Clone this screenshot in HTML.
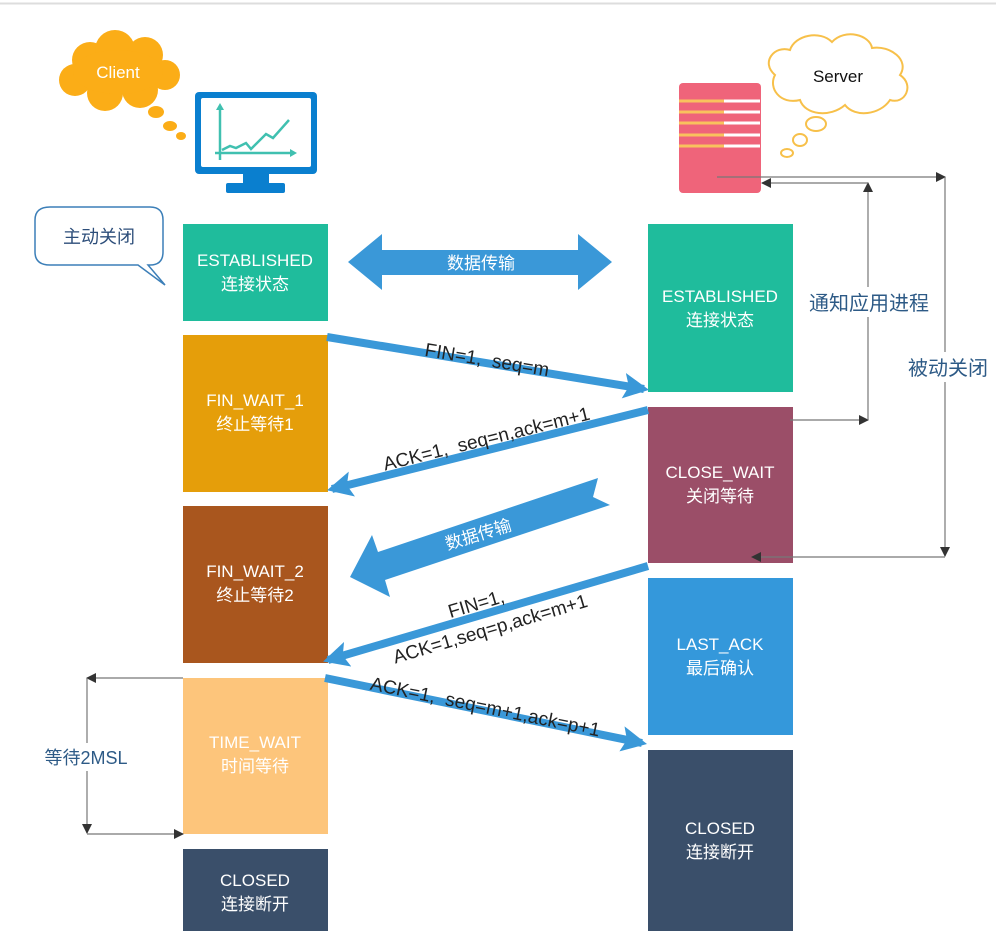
<!DOCTYPE html>
<html><head><meta charset="utf-8"><style>
body{margin:0;background:#fff;}
svg{display:block;font-family:"Liberation Sans","Noto Sans CJK SC",sans-serif;}
</style></head><body>
<svg width="996" height="931" viewBox="0 0 996 931" xmlns="http://www.w3.org/2000/svg">
<defs>
<marker id="ah" viewBox="0 0 10 10" refX="9" refY="5" markerWidth="10" markerHeight="10" markerUnits="userSpaceOnUse" orient="auto"><path d="M0,0 L10,5 L0,10 Z" fill="#333"/></marker>
<marker id="bh" viewBox="0 0 10 10" refX="8" refY="5" markerWidth="3.2" markerHeight="3.2" orient="auto"><path d="M0,0 L10,5 L0,10 L2,5 Z" fill="#3a98d8"/></marker>
</defs>
<rect x="0" y="0" width="996" height="931" fill="#fff"/>
<line x1="0" y1="3.5" x2="996" y2="3.5" stroke="#ddd" stroke-width="2"/>

<g fill="#fbad17">
<circle cx="90" cy="60" r="18"/><circle cx="115" cy="50" r="20"/><circle cx="145" cy="55" r="18"/>
<circle cx="165" cy="75" r="15"/><circle cx="140" cy="90" r="18"/><circle cx="105" cy="93" r="18"/>
<circle cx="75" cy="80" r="16"/><ellipse cx="118" cy="72" rx="45" ry="22"/>
<ellipse cx="156" cy="112" rx="8" ry="6"/><ellipse cx="170" cy="126" rx="7" ry="5"/><ellipse cx="181" cy="136" rx="5" ry="4"/>
</g>
<text x="118" y="78" font-size="17" fill="#fff" text-anchor="middle">Client</text>

<rect x="195" y="92" width="122" height="82" rx="4" fill="#0a7fcf"/>
<rect x="201" y="98" width="110" height="69" rx="2" fill="#fff"/>
<rect x="243" y="174" width="26" height="10" fill="#0a7fcf"/>
<rect x="226" y="183" width="59" height="10" rx="2" fill="#0a7fcf"/>
<g stroke="#40c0b0" stroke-width="2.5" fill="none">
<line x1="220" y1="160" x2="220" y2="108"/><line x1="215" y1="153" x2="293" y2="153"/>
<polyline points="222,150 230,146 236,148 246,143 251,149 266,134 273,138 289,120"/>
</g>
<path d="M216,110 L220,103 L224,110 Z M290,149 L297,153 L290,157 Z" fill="#40c0b0"/>

<g fill="#fff" stroke="#f7c04a" stroke-width="2">
<path d="M775,75 C760,62 775,45 790,50 C795,35 820,30 832,42 C845,28 870,35 872,48 C890,45 910,60 900,75 C915,85 905,105 890,100 C880,115 855,118 845,105 C830,118 805,115 800,100 C780,105 768,88 775,75 Z"/>
<ellipse cx="816" cy="124" rx="10" ry="7"/><ellipse cx="800" cy="140" rx="7" ry="6"/><ellipse cx="787" cy="153" rx="6" ry="4"/>
</g>
<text x="838" y="82" font-size="17" fill="#111" text-anchor="middle">Server</text>

<rect x="679" y="83" width="82" height="110" rx="4" fill="#ef647a"/>
<g stroke-width="3">
<g stroke="#f9c25d"><line x1="679" y1="101" x2="724" y2="101"/><line x1="679" y1="112" x2="724" y2="112"/><line x1="679" y1="123" x2="724" y2="123"/><line x1="679" y1="135" x2="724" y2="135"/><line x1="679" y1="146" x2="724" y2="146"/></g>
<g stroke="#fff"><line x1="724" y1="101" x2="760" y2="101"/><line x1="724" y1="112" x2="760" y2="112"/><line x1="724" y1="123" x2="760" y2="123"/><line x1="724" y1="135" x2="760" y2="135"/><line x1="724" y1="146" x2="760" y2="146"/></g>
</g>

<path d="M50,207 H150 Q163,207 163,220 V252 Q163,265 150,265 H148 L165,285 L138,265 H50 Q35,265 35,252 V220 Q35,207 50,207 Z" fill="#fff" stroke="#3c7fb8" stroke-width="1.5"/>
<text x="99" y="243" font-size="18" fill="#2d4e7a" text-anchor="middle">主动关闭</text>

<g font-size="17" fill="#fff" text-anchor="middle">
<rect x="183" y="224" width="145" height="97" fill="#1fbc9c"/>
<text x="255" y="266">ESTABLISHED</text><text x="255" y="290">连接状态</text>
<rect x="183" y="335" width="145" height="157" fill="#e59e0a"/>
<text x="255" y="406">FIN_WAIT_1</text><text x="255" y="430">终止等待1</text>
<rect x="183" y="506" width="145" height="157" fill="#a9561e"/>
<text x="255" y="577">FIN_WAIT_2</text><text x="255" y="601">终止等待2</text>
<rect x="183" y="678" width="145" height="156" fill="#fdc57b"/>
<text x="255" y="748">TIME_WAIT</text><text x="255" y="772">时间等待</text>
<rect x="183" y="849" width="145" height="82" fill="#3a4f6a"/>
<text x="255" y="886">CLOSED</text><text x="255" y="910">连接断开</text>
<rect x="648" y="224" width="145" height="168" fill="#1fbc9c"/>
<text x="720" y="302">ESTABLISHED</text><text x="720" y="326">连接状态</text>
<rect x="648" y="407" width="145" height="156" fill="#9b4e68"/>
<text x="720" y="478">CLOSE_WAIT</text><text x="720" y="502">关闭等待</text>
<rect x="648" y="578" width="145" height="157" fill="#3498db"/>
<text x="720" y="650">LAST_ACK</text><text x="720" y="674">最后确认</text>
<rect x="648" y="750" width="145" height="181" fill="#3a4f6a"/>
<text x="720" y="834">CLOSED</text><text x="720" y="858">连接断开</text>
</g>

<path d="M348,262 L382,234 L382,250 L578,250 L578,234 L612,262 L578,290 L578,275 L382,275 L382,290 Z" fill="#3a98d8"/>
<text x="481" y="269" font-size="17" fill="#fff" text-anchor="middle">数据传输</text>

<g stroke="#3a98d8" stroke-width="8" fill="none" marker-end="url(#bh)">
<line x1="327" y1="337" x2="644" y2="389"/>
<line x1="648" y1="410" x2="332" y2="489"/>
<line x1="648" y1="566" x2="328" y2="660"/>
<line x1="325" y1="678" x2="642" y2="743"/>
</g>
<g font-size="19" fill="#222" text-anchor="middle">
<text transform="translate(486,366) rotate(9.4)">FIN=1,&#160;&#160;seq=m</text>
<text transform="translate(488,445) rotate(-14)">ACK=1,&#160;&#160;seq=n,ack=m+1</text>
<text transform="translate(478,610) rotate(-16.5)">FIN=1,</text>
<text transform="translate(492,635) rotate(-16.5)">ACK=1,seq=p,ack=m+1</text>
<text transform="translate(484,713) rotate(11.6)">ACK=1,&#160;&#160;seq=m+1,ack=p+1</text>
</g>

<path d="M598,478 L593,497 L610,505 L385,580 L390,597 L350,577 L372,535 L378,552 Z" fill="#3a98d8"/>
<text transform="translate(480,540) rotate(-17)" font-size="17" fill="#fff" text-anchor="middle">数据传输</text>

<g stroke="#777" stroke-width="1.2" fill="none">
<polyline points="717,177 945,177" marker-end="url(#ah)"/>
<polyline points="945,177 945,556" marker-end="url(#ah)"/>
<polyline points="945,557 752,557" marker-end="url(#ah)"/>
<polyline points="790,420 868,420" marker-end="url(#ah)"/>
<polyline points="868,420 868,183" marker-end="url(#ah)"/>
<polyline points="868,183 762,183" marker-end="url(#ah)"/>
<polyline points="183,678 87,678" marker-end="url(#ah)"/>
<polyline points="87,678 87,833" marker-end="url(#ah)"/>
<polyline points="87,834 183,834" marker-end="url(#ah)"/>
</g>
<rect x="802" y="287" width="134" height="30" fill="#fff"/>
<text x="869" y="310" font-size="20" fill="#2d5a86" text-anchor="middle">通知应用进程</text>
<rect x="902" y="352" width="90" height="30" fill="#fff"/>
<text x="948" y="375" font-size="20" fill="#2d5a86" text-anchor="middle">被动关闭</text>
<rect x="38" y="743" width="96" height="28" fill="#fff"/>
<text x="86" y="764" font-size="18" fill="#2d5a86" text-anchor="middle">等待2MSL</text>
</svg>
</body></html>
